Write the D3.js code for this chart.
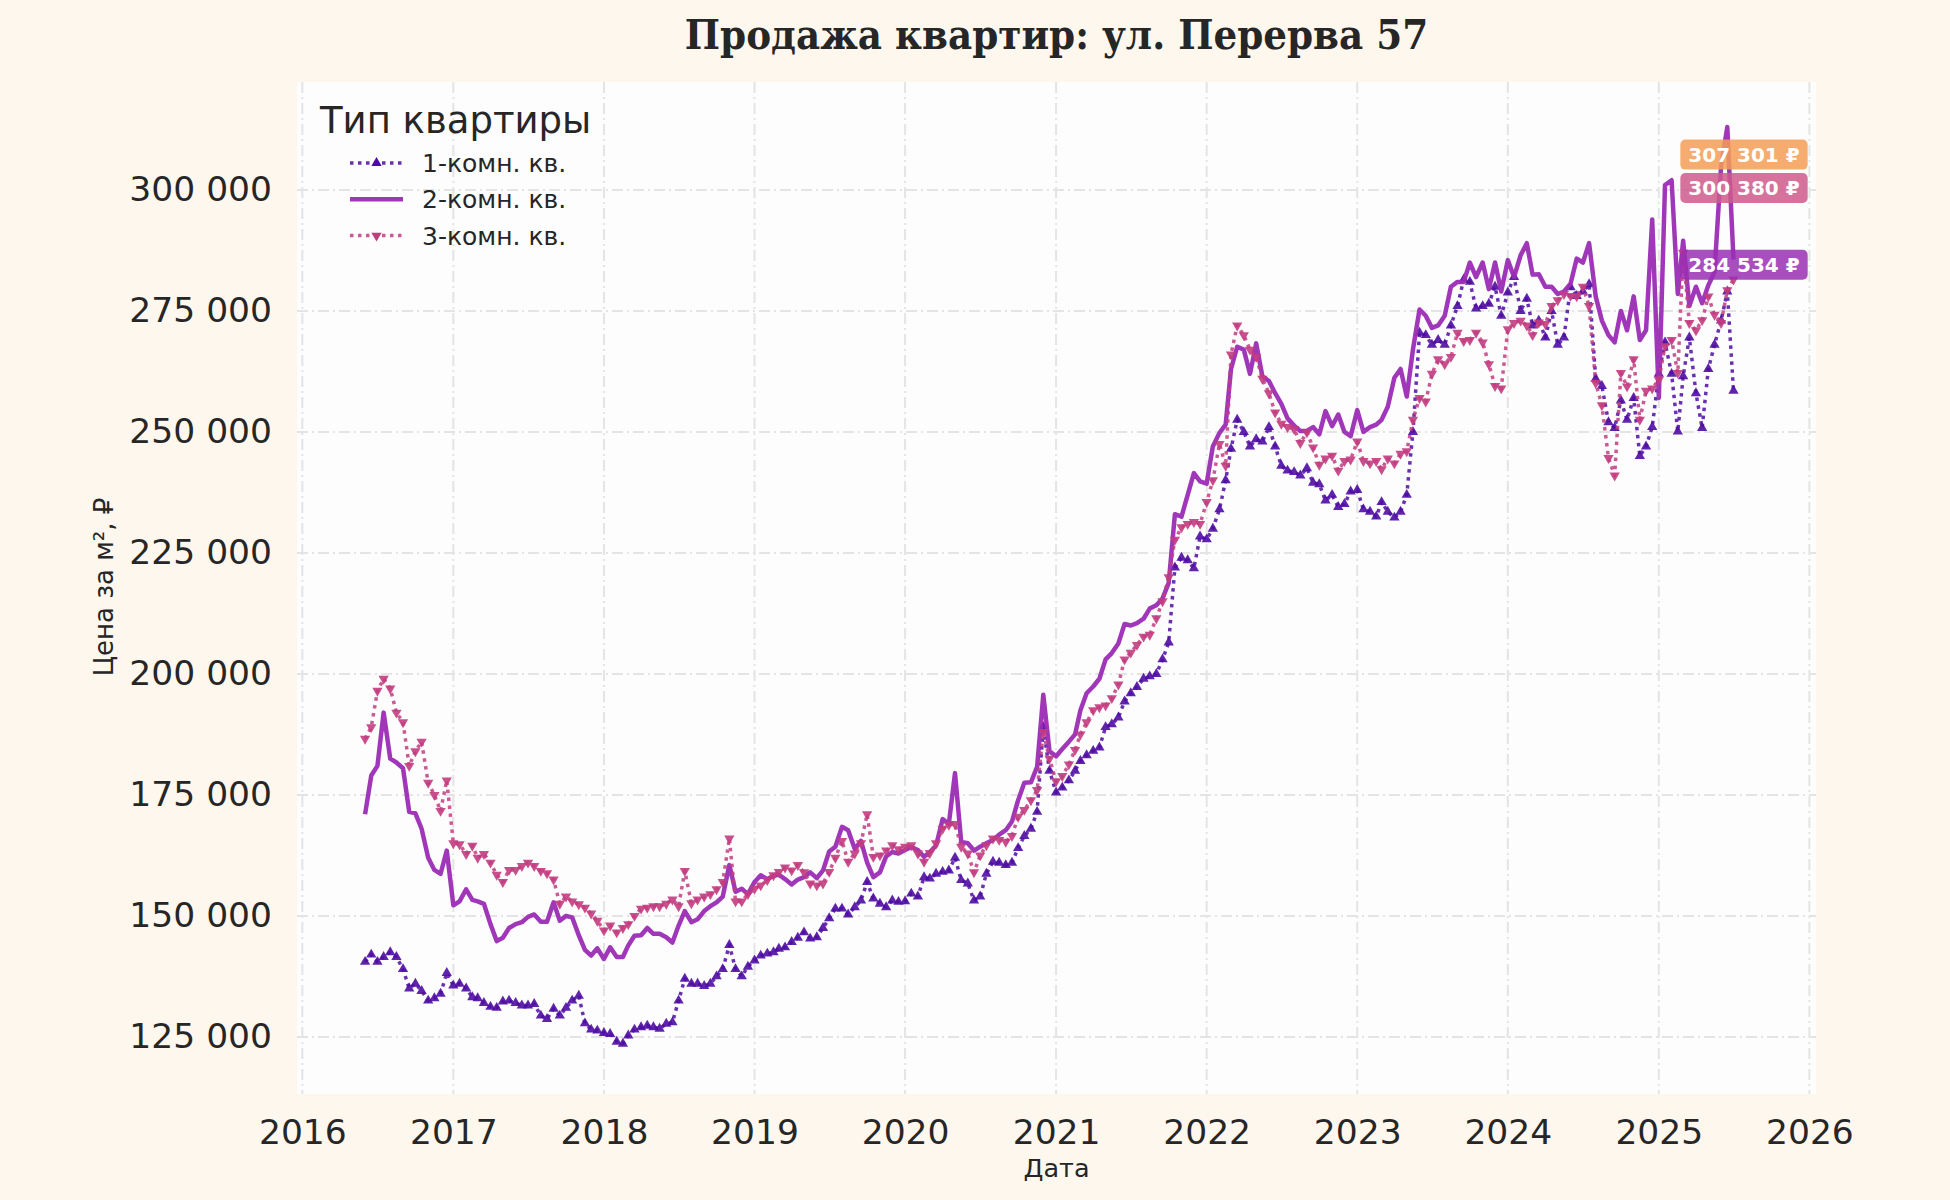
<!DOCTYPE html>
<meta charset="utf-8">
<title>Продажа квартир: ул. Перерва 57</title>
<style>
  body { margin: 0; background: #fef7ee; }
  svg { display: block; }
  text { font-family: "DejaVu Sans", sans-serif; fill: #262626; }
  .title { font-family: "DejaVu Serif Condensed", "DejaVu Serif", serif; font-stretch: condensed; font-weight: bold; font-size: 41.5px; }
  .grid line { stroke: #e4e4e4; stroke-width: 2; stroke-dasharray: 11,4,2,4; }
  .tag text { fill: #fff; font-weight: bold; font-size: 20px; }
</style>
<body>
<svg id="chart" width="1950" height="1200"></svg>
<script src="https://cdn.jsdelivr.net/npm/d3@7"></script>
<script>
// --- data (тыс. руб за м2), точки на 1-е и 16-е число месяца, июнь 2016 - июль 2025
var seriesNames = ["1-комн. кв.", "2-комн. кв.", "3-комн. кв."];

var oneRoom = [
  140.5,142,140.5,141.5,142.5,141.5,139,135,136,134.5,
  132.5,133,133.9,138.2,135.6,136,135,133.2,133,132,
  131.2,131,132.3,132.5,132,131.5,131.5,131.8,129.4,128.7,
  130.8,129.4,131,132.5,133.5,127.8,126.5,126.3,125.8,125.6,
  124,123.6,125.3,126.5,127,127.3,127,126.7,127.7,128,
  132.5,137,136,136,135.5,136,137.5,139,144,139,
  137.5,139.5,140.8,141.8,142.2,142.5,143.2,143.5,144.6,145.5,
  146.6,145.3,145.6,147.5,149.5,151.5,151.5,150.3,151.8,153.2,
  157,153.6,152.5,151.8,153.2,152.9,153,154.6,154,158,
  157.7,158.7,159.1,159.4,162,157.4,156.7,153.2,154,158.7,
  161.2,161,160.5,161,164,166.5,168,171.5,189,180,
  175.5,176.5,178,180,182,183.2,184.1,184.8,189,189.6,
  191,194.3,196,197.3,199,199.5,200,203,206.5,222,
  224,223.5,221.8,228.4,227.8,230,234,240,246.5,252.5,
  250,247,248.5,248,251,247,243,242,241.7,241,
  242.5,239.5,239.2,235.8,237,234.5,235.1,237.7,238,234,
  233.5,232.5,235.5,233.5,232.3,233.5,237,250,270.5,270,
  268,269,268,272,276,281.5,281,275.5,276,276.5,
  280,274,278.8,282,275,277.5,272,273,269.5,275,
  268,269.5,279.9,278.1,279,280.5,261,259.5,252,250.8,
  256.5,252.5,257,245,247,251,262,268.5,262,250.1,
  261.5,269.5,258,250.8,263,268,273,279,258.5
];

var twoRoom = [
  171,179,181,192,182.5,181.7,180.5,171.5,171.2,168,
  162,159.5,158.7,163.5,152.2,153,155.5,153.3,153,152.5,
  148.3,144.8,145.5,147.5,148.3,148.7,149.8,150.3,148.8,148.8,
  152.8,149,150,149.7,146,143,141.8,143.3,141.1,143.5,
  141.5,141.5,143.9,145.9,146,147.5,146.3,146.3,145.6,144.5,
  148,151,148.7,149.3,151,152,152.8,154,160.5,155,
  155.6,154.5,157,158.4,157.6,158.3,158.5,157.6,156.5,157.5,
  158,159,157.8,159.4,163.3,164.3,168.4,167.7,163.8,165.5,
  161,158,159,162.3,163.2,162.9,163.6,164.2,163.6,162.2,
  163.2,164.5,170,169,179.5,165.3,165,163.5,164.3,165,
  165.7,166.8,167.7,169.5,173.9,177.5,177.6,180.8,195.7,184,
  183,184.5,186,187.5,192.5,196,197.4,199,203,204.3,
  206.3,210.3,210,210.5,211.4,213.5,214.2,215.6,218.8,233,
  232.5,237,241.5,239.8,239.3,247,249.8,251.5,263,267.6,
  267,262,268.3,261.5,260.5,258,255.8,252.8,251.3,250.2,
  250.2,251,249.5,254.3,251.2,253.6,250,249.1,254.5,250,
  251,251.5,252.5,255.2,261.2,263,257.3,267,275.3,274,
  271.5,272,274,280,281,281,285,282,285,279.5,
  285,279,285.5,282,286.5,289,282.5,282.6,280,280,
  278.5,279,280.6,285.8,285,289,278,273,270,268.5,
  275,271,278,269,271,293.9,257,301,302,278.5,
  289.5,276,280,276.6,280.3,283,305,313,285.6
];

var threeRoom = [
  186.6,189,196.5,199,197,192,190,181,184,186,
  177.5,175,171.7,178,165,164.8,162.8,164.5,162,162.8,
  161,158.5,157,159.5,159.5,160.3,161,160.3,159.3,158.8,
  157.5,152.5,154,153,152.4,151.7,150.5,149,147,148,
  146.6,147.5,148.3,150,151.5,151.7,152,152,152.5,153.4,
  152,159.3,152.6,153.4,154,154.5,155.5,157,166,153,
  153,154.5,155.6,156.3,157.4,158.4,159.1,160,159.4,160.5,
  159,156.7,156.3,156.7,159.1,162,165.5,161.2,162.9,165,
  171,162.2,162.5,163.5,164.6,163.8,164.3,164.6,162.9,161.2,
  163,165,168,168.8,169,164.3,162.9,159,162.5,164.6,
  166,165.7,165.3,166.5,170.5,171.9,173.9,176,188,182.5,
  177.8,178.9,181.3,184.3,187.5,190,192.5,193.1,193.5,195,
  197.8,203,204.4,206,207.7,208.1,211.5,215,220,227.7,
  230.3,231,231.4,231,235.5,240,247.5,243,266,272,
  270,267,265.5,261,258,254,251.7,251,250.6,247.7,
  249.9,246.8,243.2,244.5,245.1,242,244,244.3,248,244,
  243.5,244,242.3,244.5,243.5,245.5,246,252.5,257,256.3,
  262,265,264,265.5,270.5,268.8,269,270.5,268.5,264,
  259.5,259,271.2,272.5,273,272,270,272.6,272.3,276,
  277.2,278.5,278.1,278,280,276,260.1,255.5,244.6,241,
  262.2,259.4,265,252.5,258.5,259,260.8,267.7,269,262.2,
  287,272.5,271,273.1,278,274.2,272.5,279.3,281.5
];

var yTicks = [125000, 150000, 175000, 200000, 225000, 250000, 275000, 300000];
var xTicks = [2016, 2017, 2018, 2019, 2020, 2021, 2022, 2023, 2024, 2025, 2026];

// подписи справа
var tagValues = [307301, 300380, 284534];
var tagColors = ["#f59d55", "#cf5a8c", "#9a2fb3"];

var dates = d3.range(oneRoom.length).map(function(i) {
  return new Date(2016, 5 + Math.floor(i / 2), i % 2 ? 16 : 1);
});

var series = [
  {name: seriesNames[0], values: oneRoom,   color: "#4f0ca3", dash: "3.5,4.5", marker: "up"},
  {name: seriesNames[1], values: twoRoom,   color: "#9b2cb5", dash: null,      marker: null},
  {name: seriesNames[2], values: threeRoom, color: "#c23c80", dash: "3.5,4.5", marker: "down"}
];

var svg = d3.select("#chart");
var pL = 297, pR = 1816, pT = 82, pB = 1094;   // plot box

var x = d3.scaleTime()
    .domain([new Date(2015, 11, 19), new Date(2026, 0, 17)])
    .range([pL, pR]);
var y = d3.scaleLinear()
    .domain([113200, 322300])
    .range([pB, pT]);

var fmt = d3.formatLocale({decimal: ",", thousands: " ", grouping: [3], currency: ["", ""]}).format(",.0f");

/* plot background */
svg.append("rect")
    .attr("x", pL).attr("y", pT)
    .attr("width", pR - pL).attr("height", pB - pT)
    .attr("fill", "#fdfdfd");

/* grid */
var grid = svg.append("g").attr("class", "grid");
grid.selectAll(".gx").data(xTicks).enter().append("line")
    .attr("x1", function(d) { return x(new Date(d, 0, 1)); })
    .attr("x2", function(d) { return x(new Date(d, 0, 1)); })
    .attr("y1", pT).attr("y2", pB);
grid.selectAll(".gy").data(yTicks).enter().append("line")
    .attr("x1", pL).attr("x2", pR)
    .attr("y1", function(d) { return y(d); })
    .attr("y2", function(d) { return y(d); });

/* axes */
var gx = svg.append("g")
    .attr("transform", "translate(0," + pB + ")")
    .call(d3.axisBottom(x)
      .tickValues(xTicks.map(function(d) { return new Date(d, 0, 1); }))
      .tickFormat(d3.timeFormat("%Y"))
      .tickSize(0).tickPadding(26));
var gy = svg.append("g")
    .attr("transform", "translate(" + pL + ",0)")
    .call(d3.axisLeft(y).tickValues(yTicks).tickFormat(fmt).tickSize(0).tickPadding(25));
[gx, gy].forEach(function(g) {
  g.select(".domain").remove();
  g.attr("font-family", null).attr("font-size", null);
  g.selectAll("text").attr("font-size", "34.5px").attr("fill", "#262626");
});

/* lines + markers */
var tri = d3.symbol().type(d3.symbolTriangle).size(46);

series.forEach(function(s) {
  var line = d3.line()
      .x(function(d, i) { return x(dates[i]); })
      .y(function(d) { return y(d * 1000); });

  svg.append("path")
      .datum(s.values)
      .attr("fill", "none")
      .attr("stroke", s.color)
      .attr("stroke-width", s.dash ? 3.5 : 4.5)
      .attr("stroke-opacity", s.dash ? 0.85 : 0.95)
      .attr("stroke-dasharray", s.dash)
      .attr("stroke-linejoin", "round")
      .attr("d", line);

  if (s.marker) {
    svg.append("g").selectAll("path")
        .data(s.values).enter().append("path")
        .attr("d", tri)
        .attr("fill", s.color)
        .attr("fill-opacity", 0.9)
        .attr("transform", function(d, i) {
          return "translate(" + x(dates[i]) + "," + y(d * 1000) + ")" + (s.marker == "down" ? " rotate(180)" : "");
        });
  }
});

/* value tags */
var tags = svg.append("g").attr("class", "tag");
tagValues.forEach(function(v, i) {
  var g = tags.append("g").attr("transform", "translate(1744," + y(v) + ")");
  var r = g.append("rect").attr("fill", tagColors[i]).attr("fill-opacity", 0.85).attr("rx", 5);
  var t = g.append("text").attr("text-anchor", "middle").attr("dy", "0.36em").text(fmt(v) + " ₽");
  var w = t.node().getComputedTextLength();
  r.attr("x", -w / 2 - 8).attr("y", -15).attr("width", w + 16).attr("height", 30);
});

/* title + axis labels */
svg.append("text").attr("class", "title")
    .attr("x", (pL + pR) / 2).attr("y", 49)
    .attr("text-anchor", "middle")
    .text("Продажа квартир: ул. Перерва 57");

svg.append("text")
    .attr("x", (pL + pR) / 2).attr("y", 1177)
    .attr("text-anchor", "middle").attr("font-size", "25.5px")
    .text("Дата");

svg.append("text")
    .attr("transform", "translate(113,587) rotate(-90)")
    .attr("text-anchor", "middle").attr("font-size", "26px")
    .text("Цена за м², ₽");

/* legend */
var lg = svg.append("g");
lg.append("text").attr("x", 320).attr("y", 133).attr("font-size", "37px").text("Тип квартиры");
series.forEach(function(s, i) {
  var cy = 163 + i * 36.3;
  lg.append("line")
      .attr("x1", 350).attr("x2", 403).attr("y1", cy).attr("y2", cy)
      .attr("stroke", s.color).attr("stroke-width", s.dash ? 3.5 : 4.5)
      .attr("stroke-opacity", s.dash ? 0.85 : 0.95)
      .attr("stroke-dasharray", s.dash);
  if (s.marker) {
    lg.append("path").attr("d", tri).attr("fill", s.color)
        .attr("transform", "translate(376.5," + cy + ")" + (s.marker == "down" ? " rotate(180)" : ""));
  }
  lg.append("text").attr("x", 422).attr("y", cy).attr("dy", "0.36em")
      .attr("font-size", "25px").text(s.name);
});
</script>
</body>
